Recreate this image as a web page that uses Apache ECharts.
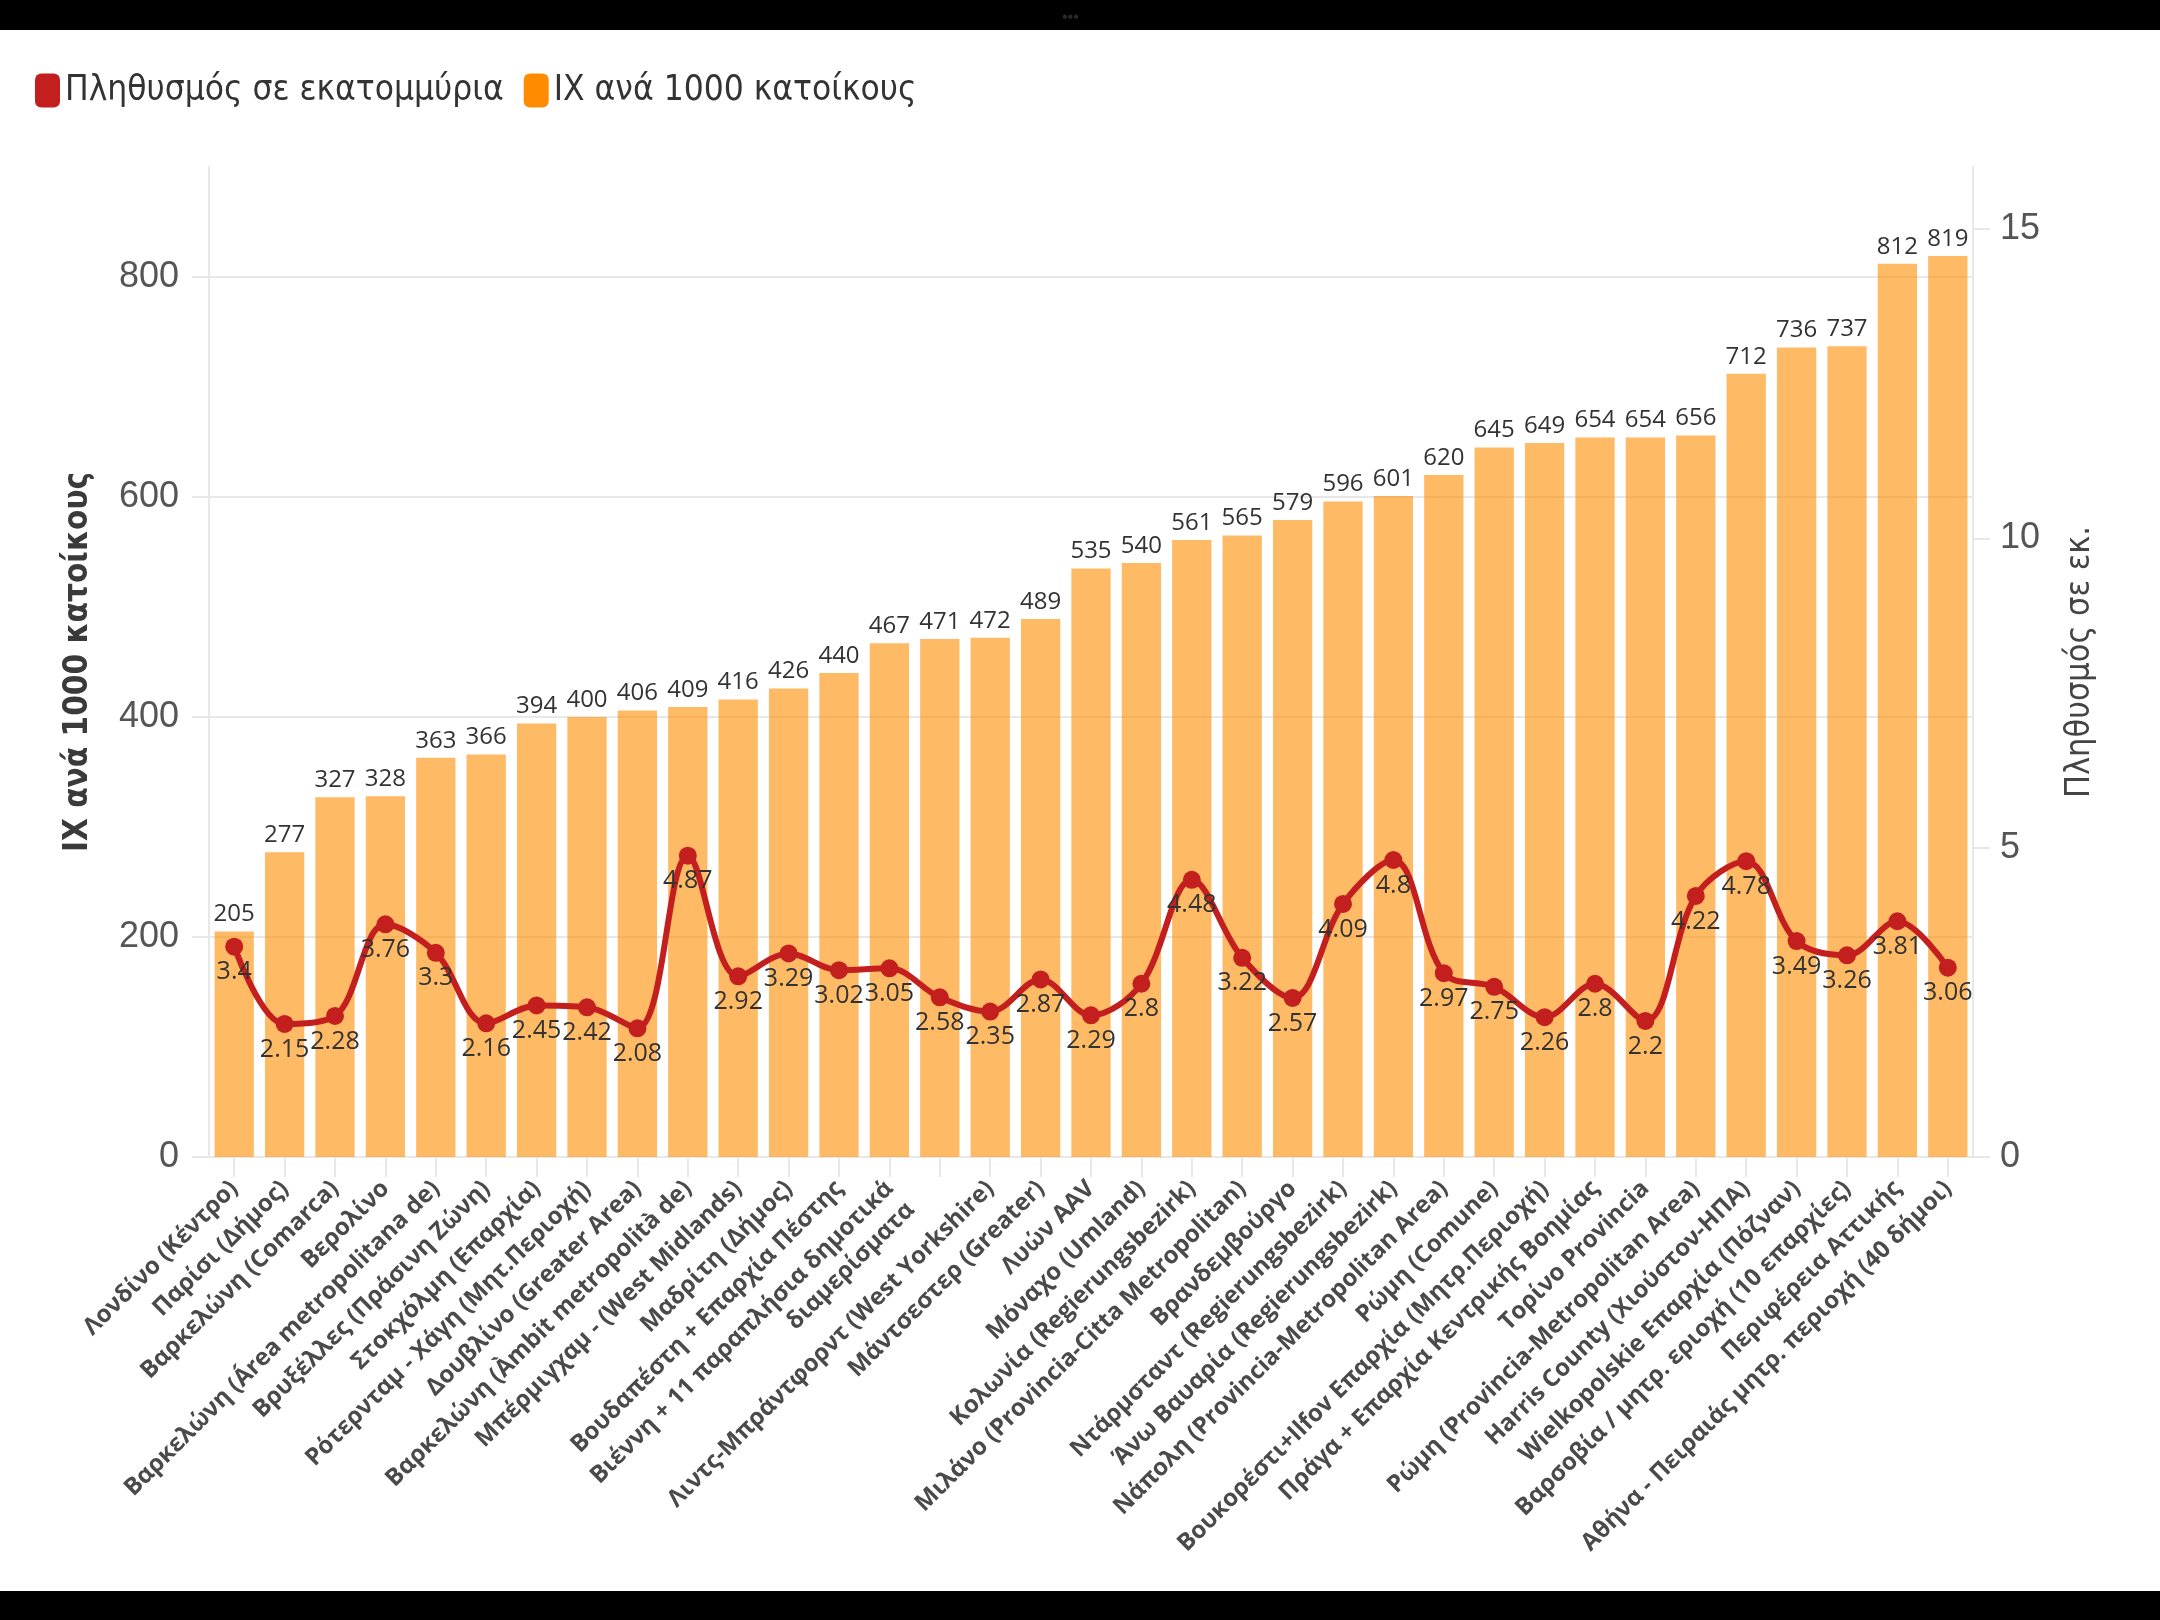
<!DOCTYPE html>
<html>
<head>
<meta charset="utf-8">
<script src="https://cdn.jsdelivr.net/npm/echarts@6/dist/echarts.min.js"></script>
<style>
html,body{margin:0;padding:0;background:#fff;}
#c{width:2160px;height:1620px;}
</style>
</head>
<body>
<div id="c"></div>
<script>
const categories = [
  "Λονδίνο (Κέντρο)",
  "Παρίσι (Δήμος)",
  "Βαρκελώνη (Comarca)",
  "Βερολίνο",
  "Βαρκελώνη (Área metropolitana de)",
  "Βρυξέλλες (Πράσινη Ζώνη)",
  "Στοκχόλμη (Επαρχία)",
  "Ρότερνταμ - Χάγη (Μητ.Περιοχή)",
  "Δουβλίνο (Greater Area)",
  "Βαρκελώνη (Àmbit metropolità de)",
  "Μπέρμιγχαμ - (West Midlands)",
  "Μαδρίτη (Δήμος)",
  "Βουδαπέστη + Επαρχία Πέστης",
  "Βιέννη + 11 παραπλήσια δημοτικά\nδιαμερίσματα",
  "",
  "Λιντς-Μπράντφορντ (West Yorkshire)",
  "Μάντσεστερ (Greater)",
  "Λυών AAV",
  "Μόναχο (Umland)",
  "Κολωνία (Regierungsbezirk)",
  "Μιλάνο (Provincia-Citta Metropolitan)",
  "Βρανδεμβούργο",
  "Ντάρμσταντ (Regierungsbezirk)",
  "Άνω Βαυαρία (Regierungsbezirk)",
  "Νάπολη (Provincia-Metropolitan Area)",
  "Ρώμη (Comune)",
  "Βουκορέστι+Ilfov Επαρχία (Μητρ.Περιοχή)",
  "Πράγα + Επαρχία Κεντρικής Βοημίας",
  "Τορίνο Provincia",
  "Ρώμη (Provincia-Metropolitan Area)",
  "Harris County (Χιούστον-ΗΠΑ)",
  "Wielkopolskie Επαρχία (Πόζναν)",
  "Βαρσοβία / μητρ. εριοχή (10 επαρχίες)",
  "Περιφέρεια Αττικής",
  "Αθήνα - Πειραιάς μητρ. περιοχή (40 δήμοι)"
];
const carsPer1000 = [205,277,327,328,363,366,394,400,406,409,416,426,440,467,471,472,489,535,540,561,565,579,596,601,620,645,649,654,654,656,712,736,737,812,819];
const populationMillions = [3.4,2.15,2.28,3.76,3.3,2.16,2.45,2.42,2.08,4.87,2.92,3.29,3.02,3.05,2.58,2.35,2.87,2.29,2.8,4.48,3.22,2.57,4.09,4.8,2.97,2.75,2.26,2.8,2.2,4.22,4.78,3.49,3.26,3.81,3.06];
const seriesNames = ["Πληθυσμός σε εκατομμύρια", "ΙΧ ανά 1000 κατοίκους"];
const leftAxisName = "ΙΧ ανά 1000 κατοίκους";
const rightAxisName = "Πληθυσμός σε εκ.";

const condensed = '"Liberation Sans Narrow", "DejaVu Sans Condensed", "Noto Sans", sans-serif';

const chart = echarts.init(document.getElementById('c'), null, {renderer: 'canvas'});
const gridColor = '#e8e8e8';
const option = {
  backgroundColor: '#ffffff',
  animation: false,
  textStyle: {fontFamily: '"Open Sans", "Noto Sans", sans-serif'},
  legend: {
    data: [
      {name: seriesNames[0], itemStyle: {color: '#c41f1f'}},
      {name: seriesNames[1], itemStyle: {color: '#ff8c00'}}
    ],
    left: 30, top: 68,
    icon: 'roundRect',
    itemWidth: 25, itemHeight: 34,
    itemGap: 20,
    textStyle: {fontSize: 35, color: '#333', fontFamily: condensed}
  },
  grid: {left: 209, right: 187, top: 167, bottom: 463, containLabel: false},
  xAxis: {
    type: 'category',
    data: categories,
    axisLine: {show: true, lineStyle: {color: gridColor, width: 2}},
    axisTick: {show: true, alignWithLabel: true, length: 20, lineStyle: {color: gridColor, width: 2}},
    axisLabel: {
      interval: 0, rotate: 45, margin: 28,
      fontSize: 24, fontWeight: 'bold', color: '#4a4a4a',
      fontFamily: '"Open Sans", "Noto Sans", sans-serif',
      lineHeight: 30,
      formatter: function (v) { return v.indexOf('\n') >= 0 ? '\n' + v : v; }
    }
  },
  yAxis: [
    {
      type: 'value', min: 0, max: 900, interval: 200,
      name: leftAxisName, nameLocation: 'middle', nameGap: 114, nameRotate: 90,
      nameTextStyle: {fontSize: 33, fontWeight: 'bold', color: '#3a3a3a', fontFamily: condensed},
      axisLine: {show: true, lineStyle: {color: gridColor, width: 2}},
      axisTick: {show: true, length: 17, lineStyle: {color: gridColor, width: 2}},
      axisLabel: {showMaxLabel: false, fontSize: 36, color: '#555', margin: 30, fontFamily: '"Liberation Sans", Arial, sans-serif'},
      splitLine: {show: true, showMaxLine: false, lineStyle: {color: gridColor, width: 2}}
    },
    {
      type: 'value', min: 0, max: 16, interval: 5, position: 'right',
      name: rightAxisName, nameLocation: 'middle', nameGap: 90, nameRotate: 90,
      nameTextStyle: {fontSize: 34, color: '#444', fontFamily: condensed},
      axisLine: {show: true, lineStyle: {color: gridColor, width: 2}},
      axisTick: {show: true, length: 17, lineStyle: {color: gridColor, width: 2}},
      axisLabel: {showMaxLabel: false, fontSize: 36, color: '#555', margin: 27, fontFamily: '"Liberation Sans", Arial, sans-serif'},
      splitLine: {show: false}
    }
  ],
  series: [
    {
      name: seriesNames[1],
      type: 'bar',
      yAxisIndex: 0,
      data: carsPer1000,
      barWidth: '78%',
      itemStyle: {color: 'rgba(255,140,0,0.6)'},
      label: {show: true, position: 'top', distance: 5, fontSize: 24, fontWeight: 500, color: '#333', fontFamily: '"Open Sans", sans-serif'}
    },
    {
      name: seriesNames[0],
      type: 'line',
      yAxisIndex: 1,
      data: populationMillions,
      smooth: 0.35,
      symbol: 'circle',
      symbolSize: 18,
      lineStyle: {color: '#c41f1f', width: 6},
      itemStyle: {color: '#c41f1f'},
      label: {show: true, position: 'bottom', distance: 4, fontSize: 25, color: '#333', fontFamily: '"Open Sans", sans-serif'},
      z: 5
    }
  ],
  graphic: [
    {type: 'rect', left: 0, top: 0, shape: {width: 2160, height: 30}, style: {fill: '#000'}, z: 100},
    {type: 'rect', left: 0, top: 1591, shape: {width: 2160, height: 29}, style: {fill: '#000'}, z: 100},
    {type: 'text', left: 1062, top: 10, style: {text: '•••', fill: '#2a2a2a', fontSize: 16}, z: 101}
  ]
};
chart.setOption(option);
</script>
</body>
</html>
